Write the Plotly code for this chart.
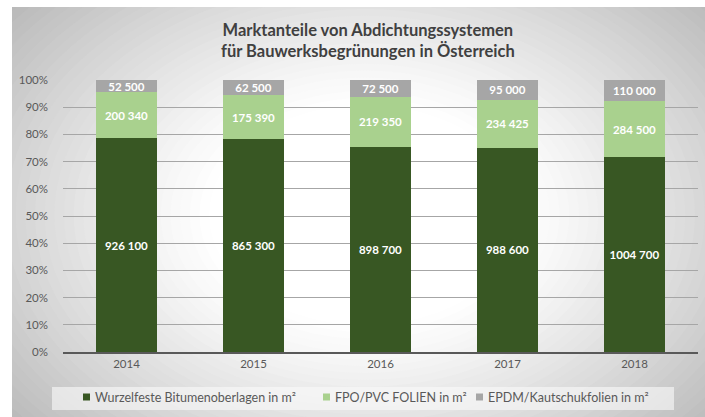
import plotly.graph_objects as go

years = ["2014", "2015", "2016", "2017", "2018"]
bitumen = [926100, 865300, 898700, 988600, 1004700]
fpo_pvc = [200340, 175390, 219350, 234425, 284500]
epdm = [52500, 62500, 72500, 95000, 110000]

names = ["Wurzelfeste Bitumenoberlagen in m²", "FPO/PVC FOLIEN in m²", "EPDM/Kautschukfolien in m²"]
colors = ["#385723", "#a9d18e", "#a6a6a6"]
title_text = "Marktanteile von Abdichtungssystemen<br>für Bauwerksbegrünungen in Österreich"


def fmt(v):
    return f"{v // 1000} {v % 1000:03d}" if v >= 1000 else str(v)


FONT = "Lato, 'Open Sans', sans-serif"

W, H = 705, 417
ml, mr, mt, mb = 63, 7, 80, 65
pw, ph = W - ml - mr, H - mt - mb
EDGE = "rgb(180,180,180)"


def px(x):
    return (x - ml) / pw


def py(y):
    return (H - mb - y) / ph


fig = go.Figure()
for vals, name, col in zip([bitumen, fpo_pvc, epdm], names, colors):
    fig.add_trace(go.Bar(
        x=years, y=vals, name=name, marker=dict(color=col, line=dict(width=0)),
        text=[fmt(v) for v in vals], textposition="inside", insidetextanchor="middle",
        textangle=0, constraintext="none",
        textfont=dict(family=FONT, size=11.5, color="white", weight="bold"),
        hoverinfo="skip", showlegend=False,
    ))

shapes = []
# background gradient: concentric lighter ellipses over a gray paper
cx, cy, rx, ry = 365, 215, 410, 290
n = 40
for i in range(n):
    d = 1.3 - i * (1.3 - 0.38) / (n - 1)
    t = max(0.0, min(1.0, (d - 0.38) / 0.75))
    c = int(round(255 - 70 * t ** 1.15))
    shapes.append(dict(type="circle", xref="paper", yref="paper",
                       x0=px(cx - rx * d), x1=px(cx + rx * d), y0=py(cy + ry * d), y1=py(cy - ry * d),
                       fillcolor=f"rgb({c},{c},{c})", line=dict(width=0), layer="below"))
# white border at left / top
shapes.append(dict(type="rect", xref="paper", yref="paper", x0=px(-5), x1=px(12), y0=py(430), y1=py(-5),
                   fillcolor="white", line=dict(width=0), layer="below"))
shapes.append(dict(type="rect", xref="paper", yref="paper", x0=px(-5), x1=px(720), y0=py(7), y1=py(-5),
                   fillcolor="white", line=dict(width=0), layer="below"))
# legend box
shapes.append(dict(type="rect", xref="paper", yref="paper", x0=px(52), x1=px(674), y0=py(410), y1=py(387),
                   fillcolor="rgba(250,250,250,0.6)", line=dict(width=0), layer="below"))

annotations = []
leg_text_x = [93, 333, 486]
for name, col, tx in zip(names, colors, leg_text_x):
    shapes.append(dict(type="rect", xref="paper", yref="paper", x0=px(tx - 10), x1=px(tx - 3),
                       y0=py(400.5), y1=py(393.5), fillcolor=col, line=dict(width=0), layer="above"))
    annotations.append(dict(text=name, xref="paper", yref="paper", x=px(tx), y=py(397.5),
                            xanchor="left", yanchor="middle", showarrow=False,
                            font=dict(family=FONT, size=12.5, color="#595959")))

annotations.append(dict(text=title_text, xref="paper", yref="paper", x=px(368), y=py(40),
                        xanchor="center", yanchor="middle", showarrow=False, align="center",
                        font=dict(family=FONT, size=16.5, color="#404040", weight="bold")))

fig.update_layout(
    width=W, height=H,
    margin=dict(l=ml, r=mr, t=mt, b=mb),
    paper_bgcolor=EDGE, plot_bgcolor="rgba(0,0,0,0)",
    barmode="stack", barnorm="percent", bargap=0.527,
    font=dict(family=FONT, color="#595959", size=11.5),
    showlegend=False,
    shapes=shapes, annotations=annotations,
    xaxis=dict(showgrid=False, showline=True, linecolor="#595959", linewidth=2,
               ticks="", tickfont=dict(family=FONT, size=11.5, color="#595959")),
    yaxis=dict(range=[0, 100], dtick=10, ticksuffix="%", showgrid=True,
               gridcolor="#a6a6a6", gridwidth=1, zeroline=False, showline=False,
               ticklabelstandoff=14,
               tickfont=dict(family=FONT, size=11.5, color="#595959")),
)

fig.write_html(
    "out.html",
    config={"displayModeBar": False},
    post_script=(
        "document.documentElement.style.margin='0';document.body.style.margin='0';"
        "document.documentElement.style.overflow='hidden';document.body.style.overflow='hidden';"
        "document.body.style.background='" + EDGE + "';"
    ),
)
